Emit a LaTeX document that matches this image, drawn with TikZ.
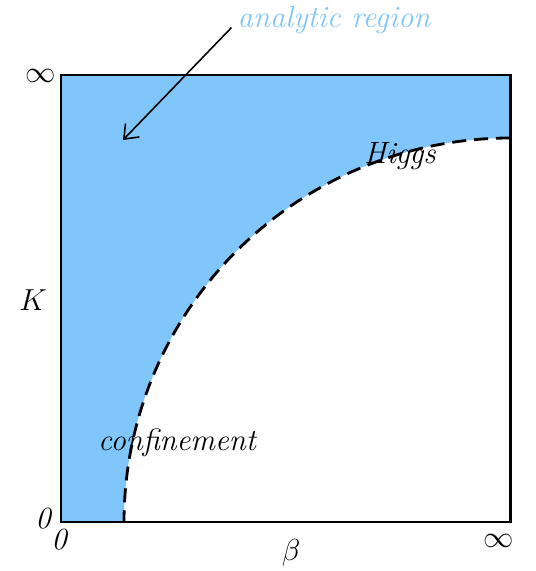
\documentclass[tikz,border=0pt]{standalone}
\usepackage{tikz}
\usetikzlibrary{arrows.meta, positioning, calc}
\definecolor{skyblue}{RGB}{128,198,250}

\begin{document}
\begin{tikzpicture}[x=0.02cm, y=-0.02cm, font=\fontsize{17.5}{20}\selectfont\itshape,
    region/.style={fill=skyblue, draw=none},
    frame/.style={draw, line width=1.7pt},
    phase/.style={line width=1.6pt, dash pattern=on 8pt off 4.5pt},
    inf/.style={font=\fontsize{16}{18}\selectfont},
    arrow/.style={-{Straight Barb[length=7pt, width=11pt]}, line width=0.9pt}
]
    \useasboundingbox (0,0) rectangle (535,571);
    \coordinate (nw) at (61,75);
    \coordinate (ne) at (510,75);
    \coordinate (se) at (510,522);
    \coordinate (sw) at (61,522);

    % analytic region
    \fill[region] (nw) -- (ne) -- (510,138)
        -- plot[domain=90:180, samples=90] ({510+386*cos(\x)}, {522-384*sin(\x)})
        -- (sw) -- cycle;
    \draw[phase] plot[domain=90:180, samples=90] ({510+386*cos(\x)}, {522-384*sin(\x)});
    \draw[frame] (nw) rectangle (se);

    % labels
    \node[text=skyblue] (analytic) at (334,20) {analytic region};
    \coordinate (tip) at (123,140);
    \draw[arrow] (analytic.base west) -- (tip);
    \node (higgs) at (400,156) {Higgs};
    \node (confine) at (177,443) {confinement};
    \node[inf] (kinf) at (41,76) {$\infty$};
    \node (K) at (33,300) {$K$};
    \node (kzero) at (43,519) {0};
    \node (bzero) at (59,540) {0};
    \node (beta) at (291,553) {$\beta$};
    \node[inf] (binf) at (499,541) {$\infty$};
\end{tikzpicture}
\end{document}
